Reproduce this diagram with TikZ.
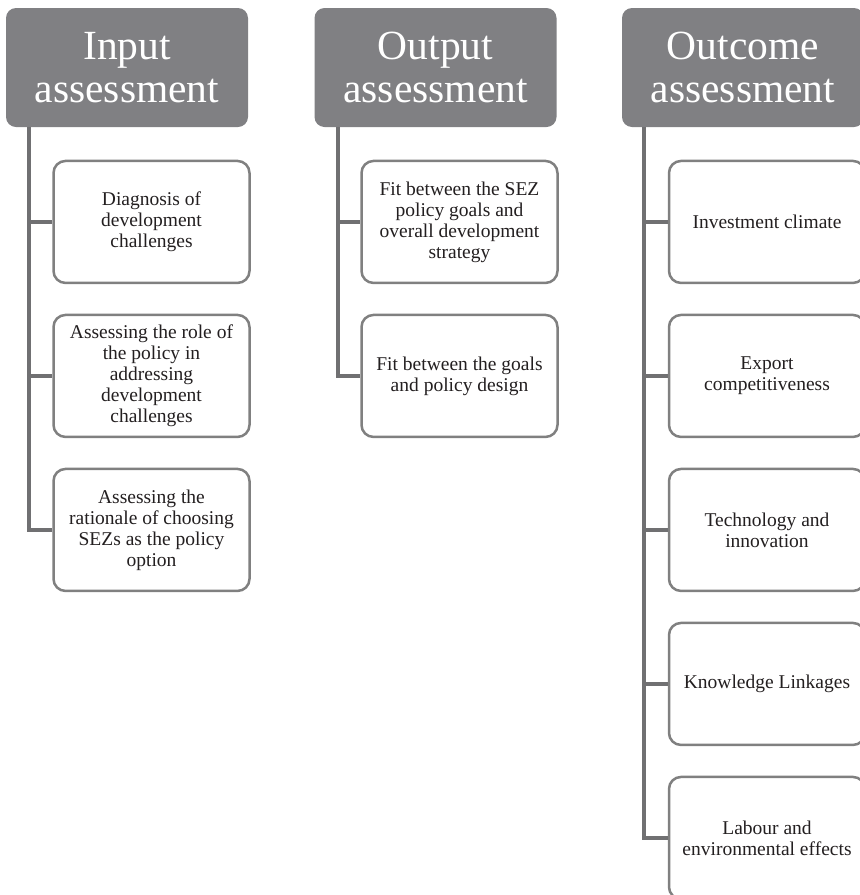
\documentclass[tikz,border=0pt]{standalone}
\usepackage{fontspec}
\setmainfont{Liberation Serif}
\usetikzlibrary{positioning}

\definecolor{headgray}{RGB}{128,128,131}
\definecolor{linegray}{RGB}{112,112,114}
\definecolor{boxgray}{RGB}{128,128,128}
\definecolor{inktext}{RGB}{35,31,32}

\tikzset{
    head/.style={rectangle, rounded corners=10pt, fill=headgray, text=white,
        minimum width=242pt, minimum height=119pt, align=center, inner sep=2pt,
        font=\fontsize{41.5}{43}\selectfont},
    item/.style={rectangle, rounded corners=12pt, draw=boxgray, line width=2.5pt,
        fill=white, text=inktext, minimum width=196pt, minimum height=122pt,
        align=center, inner sep=2pt, font=\fontsize{19.5}{21}\selectfont},
    branch/.style={draw=linegray, line width=4pt}
}

\begin{document}
\begin{tikzpicture}[x=1pt, y=-1pt, node distance=29.5pt]
        \useasboundingbox (0,0) rectangle (860,895);

        % Input assessment
        \node[head] (inhead) at (127,67.5) {Input\\assessment};
        \node[item, below=32.5pt of inhead, xshift=24.5pt] (in1) {Diagnosis of\\development\\challenges};
        \node[item, below=of in1] (in2) {Assessing the role of\\the policy in\\addressing\\development\\challenges};
        \node[item, below=of in2] (in3) {Assessing the\\rationale of choosing\\SEZs as the policy\\option};

        % Output assessment
        \node[head] (outhead) at (435.5,67.5) {Output\\assessment};
        \node[item, below=32.5pt of outhead, xshift=24pt] (out1) {Fit between the SEZ\\policy goals and\\overall development\\strategy};
        \node[item, below=of out1] (out2) {Fit between the goals\\and policy design};

        % Outcome assessment
        \node[head] (ochead) at (743,67.5) {Outcome\\assessment};
        \node[item, below=32.5pt of ochead, xshift=24pt] (oc1) {Investment climate};
        \node[item, below=of oc1] (oc2) {Export\\competitiveness};
        \node[item, below=of oc2] (oc3) {Technology and\\innovation};
        \node[item, below=of oc3] (oc4) {Knowledge Linkages};
        \node[item, below=of oc4] (oc5) {Labour and\\environmental effects};

        % Connections
        \foreach \kid in {in1,in2,in3}
            \draw[branch] ([xshift=23.5pt]inhead.south west) |- (\kid.west);
        \foreach \kid in {out1,out2}
            \draw[branch] ([xshift=23.5pt]outhead.south west) |- (\kid.west);
        \foreach \kid in {oc1,oc2,oc3,oc4,oc5}
            \draw[branch] ([xshift=22pt]ochead.south west) |- (\kid.west);
    \end{tikzpicture}
\end{document}
